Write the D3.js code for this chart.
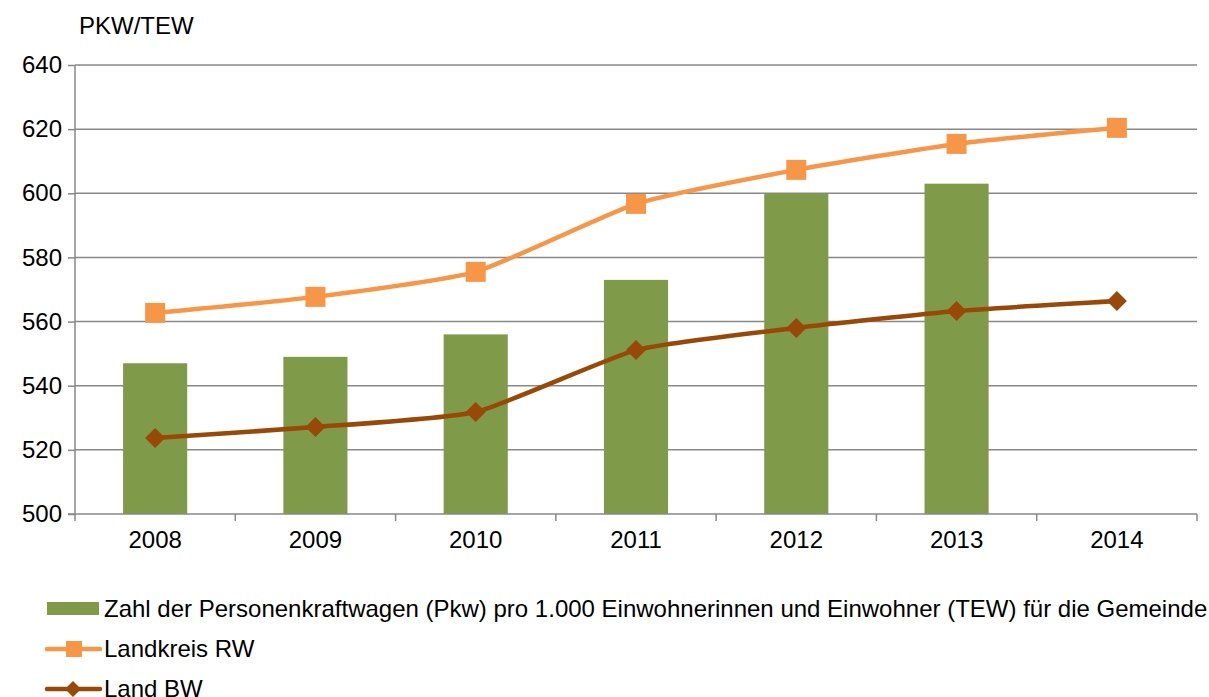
<!DOCTYPE html>
<html>
<head>
<meta charset="utf-8">
<script src="https://cdn.jsdelivr.net/npm/d3@7"></script>
<style>
  body { margin: 0; background: #fff; }
  text { font-family: "Liberation Sans", Arial, sans-serif; fill: #000; }
</style>
</head>
<body>
<div id="chart-area"></div>
<script>
// data
var years = ["2008", "2009", "2010", "2011", "2012", "2013", "2014"];
var gemeinde = [547, 549, 556, 573, 600, 603, null];
var landkreis = [562.7, 567.7, 575.5, 596.7, 607.3, 615.4, 620.4];
var land = [523.7, 527.1, 531.8, 551.1, 558, 563.3, 566.4];
var yTicks = [500, 520, 540, 560, 580, 600, 620, 640];
var seriesNames = [
    "Zahl der Personenkraftwagen (Pkw) pro 1.000 Einwohnerinnen und Einwohner (TEW) f\u00fcr die Gemeinde",
    "Landkreis RW",
    "Land BW"
];

var green = "#7F9A48", orange = "#F79646", brown = "#984807", grid = "#888888";
var fs = "24px";

var svg = d3.select("#chart-area").append("svg")
    .attr("width", 1209)
    .attr("height", 697);

var pLeft = 75, pRight = 1197, pTop = 65, pBottom = 514;

var x = d3.scaleBand()
    .domain(years)
    .range([pLeft, pRight]);

var y = d3.scaleLinear()
    .domain([500, 640])
    .range([pBottom, pTop]);

// gridlines
svg.append("g")
    .selectAll("line")
    .data(yTicks.slice(1))
    .enter().append("line")
    .attr("x1", pLeft).attr("x2", pRight)
    .attr("y1", (d)=>{return y(d);}).attr("y2", (d)=>{return y(d);})
    .attr("stroke", grid).attr("stroke-width", 1.5);

// bars
var barW = x.bandwidth() * 0.4;
svg.append("g")
    .selectAll("rect")
    .data(years.map((d, i)=>{return {year: d, v: gemeinde[i]};}).filter((d)=>{return d.v != null;}))
    .enter().append("rect")
    .attr("x", (d)=>{return x(d.year) + x.bandwidth()/2 - barW/2;})
    .attr("y", (d)=>{return y(d.v);})
    .attr("width", barW)
    .attr("height", (d)=>{return y(500) - y(d.v);})
    .attr("fill", green);

// y axis
var yAxis = d3.axisLeft(y).tickValues(yTicks).tickSize(7).tickPadding(6);
var gy = svg.append("g").attr("transform", "translate(" + pLeft + ",0)").call(yAxis);
gy.select(".domain").attr("stroke", grid).attr("stroke-width", 1.5).attr("d", "M0," + pTop + "V" + pBottom);
gy.selectAll(".tick line").attr("stroke", grid).attr("stroke-width", 1.5);
gy.selectAll(".tick text").style("font-size", fs).attr("fill", "#000")
    .style("font-family", "'Liberation Sans', Arial, sans-serif");

// x axis
var xAxis = d3.axisBottom(x).tickSize(0).tickPadding(17);
var gx = svg.append("g").attr("transform", "translate(0," + pBottom + ")").call(xAxis);
gx.select(".domain").attr("stroke", grid).attr("stroke-width", 1.5).attr("d", "M" + (pLeft - 7) + ",0H" + pRight);
gx.selectAll(".tick text").style("font-size", fs).attr("fill", "#000")
    .style("font-family", "'Liberation Sans', Arial, sans-serif");
svg.append("g")
    .selectAll("line")
    .data(years.concat(["end"]))
    .enter().append("line")
    .attr("x1", (d, i)=>{return pLeft + i * x.bandwidth();})
    .attr("x2", (d, i)=>{return pLeft + i * x.bandwidth();})
    .attr("y1", pBottom).attr("y2", pBottom + 7)
    .attr("stroke", grid).attr("stroke-width", 1.5);

// lines (light smoothing like the original)
var cx = (d)=>{return x(d) + x.bandwidth()/2;};
var line = d3.line()
    .x((d)=>{return cx(d.year);})
    .y((d)=>{return y(d.v);})
    .curve(d3.curveCardinal.tension(0.5));

var lkData = years.map((d, i)=>{return {year: d, v: landkreis[i]};});
var lData = years.map((d, i)=>{return {year: d, v: land[i]};});

svg.append("path").datum(lkData).attr("d", line)
    .attr("fill", "none").attr("stroke", orange).attr("stroke-width", 4.5);
svg.append("path").datum(lData).attr("d", line)
    .attr("fill", "none").attr("stroke", brown).attr("stroke-width", 4.5);

svg.append("g").selectAll("rect")
    .data(lkData).enter().append("rect")
    .attr("x", (d)=>{return cx(d.year) - 10;})
    .attr("y", (d)=>{return y(d.v) - 10;})
    .attr("width", 20).attr("height", 20)
    .attr("fill", orange);

svg.append("g").selectAll("path")
    .data(lData).enter().append("path")
    .attr("transform", (d)=>{return "translate(" + cx(d.year) + "," + y(d.v) + ")";})
    .attr("d", "M0,-10L10,0L0,10L-10,0Z")
    .attr("fill", brown);

// axis title
svg.append("text").attr("x", 79).attr("y", 34).style("font-size", fs).text("PKW/TEW");

// legend
var lg = svg.append("g");
lg.append("rect").attr("x", 47).attr("y", 602).attr("width", 52).attr("height", 13).attr("fill", green);
lg.append("text").attr("x", 104).attr("y", 617).style("font-size", fs).text(seriesNames[0]);

lg.append("line").attr("x1", 47).attr("x2", 100).attr("y1", 649).attr("y2", 649)
    .attr("stroke", orange).attr("stroke-width", 4.5).attr("stroke-linecap", "round");
lg.append("rect").attr("x", 66).attr("y", 641).attr("width", 16).attr("height", 16).attr("fill", orange);
lg.append("text").attr("x", 104).attr("y", 657).style("font-size", fs).text(seriesNames[1]);

lg.append("line").attr("x1", 47).attr("x2", 100).attr("y1", 689).attr("y2", 689)
    .attr("stroke", brown).attr("stroke-width", 4.5).attr("stroke-linecap", "round");
lg.append("path").attr("transform", "translate(73,689)").attr("d", "M0,-8L8,0L0,8L-8,0Z").attr("fill", brown);
lg.append("text").attr("x", 104).attr("y", 697).style("font-size", fs).text(seriesNames[2]);
</script>
</body>
</html>
